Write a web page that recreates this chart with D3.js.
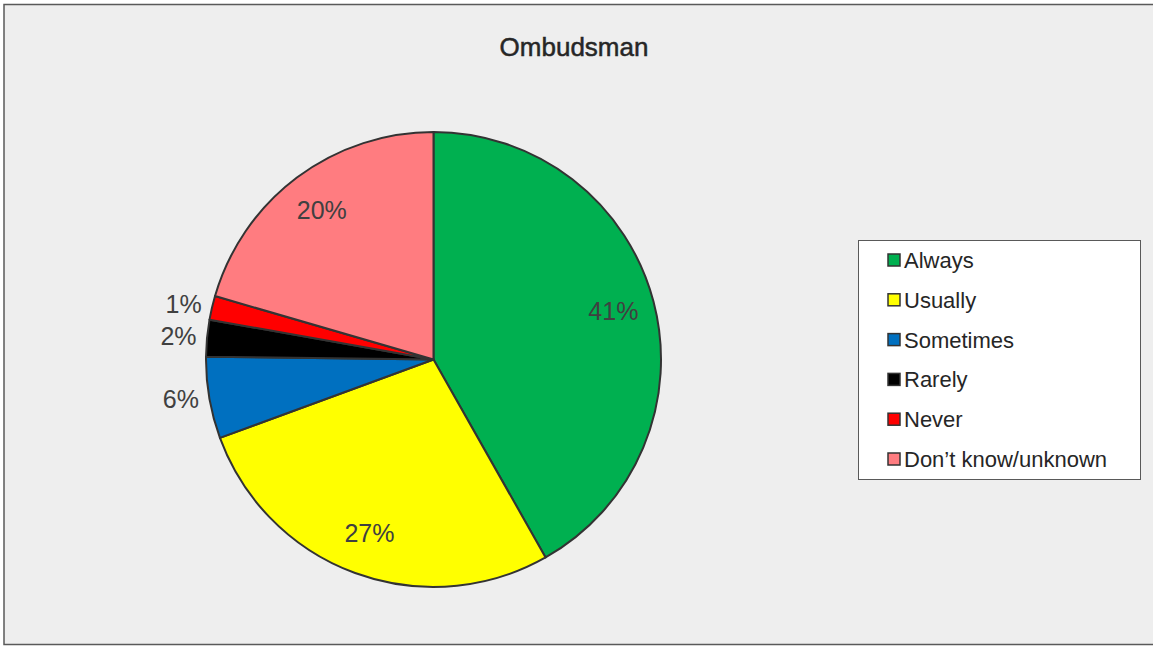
<!DOCTYPE html>
<html lang="en">
<head>
    <meta charset="utf-8">
    <title>Ombudsman</title>
    <script src="https://d3js.org/d3.v7.min.js" charset="utf-8"></script>
    <style type="text/css">
        html, body { margin: 0; padding: 0; background: #ffffff; }
        svg { display: block; font-family: "Liberation Sans", Arial, sans-serif; }
    </style>
</head>
<body>
	<svg width="1153" height="646"></svg>
	<script>

	    // data
	    var categories = ["Always", "Usually", "Sometimes", "Rarely", "Never", "Don\u2019t know/unknown"];
	    var values = [41.8, 27.6, 5.8, 2.6, 1.7, 20.5];
	    var pctLabels = ["41%", "27%", "6%", "2%", "1%", "20%"];
	    var colors = ["#00b050", "#ffff00", "#0070c0", "#000000", "#ff0000", "#ff7c80"];

	    var svg = d3.select("svg"),
	        width = +svg.attr("width"),
	        height = +svg.attr("height");

	    // chart area background + border
	    svg.append("rect")
	       .attr("x", 4).attr("y", 4.5)
	       .attr("width", width + 10).attr("height", 640)
	       .attr("fill", "#eeeeee")
	       .attr("stroke", "#595959")
	       .attr("stroke-width", 1.5);

	    svg.append("text")
	       .attr("x", 574).attr("y", 56)
	       .attr("text-anchor", "middle")
	       .attr("font-size", 26)
	       .attr("fill", "#262626")
	       .attr("stroke", "#262626")
	       .attr("stroke-width", 0.5)
	       .text("Ombudsman");

	    var cx = 433.5, cy = 359.5, r = 227.5;

	    var data = categories.map(function(c, i) {
	        return { name: c, value: values[i], label: pctLabels[i], color: colors[i] };
	    });

	    var pie = d3.pie().sort(null).value(function(d) { return d.value; });
	    var arc = d3.arc().innerRadius(0).outerRadius(r);
	    var arcs = pie(data);

	    var g = svg.append("g")
	               .attr("transform", "translate(" + cx + "," + cy + ")");

	    g.selectAll("path")
	     .data(arcs)
	     .enter().append("path")
	     .attr("d", arc)
	     .attr("fill", function(d) { return d.data.color; })
	     .attr("stroke", "#333333")
	     .attr("stroke-width", 2)
	     .attr("stroke-linejoin", "round");

	    // labels: inside for large slices, outside (end-anchored) for small ones
	    g.selectAll("text.lbl")
	     .data(arcs)
	     .enter().append("text")
	     .attr("class", "lbl")
	     .attr("font-size", 25)
	     .attr("fill", "#404040")
	     .attr("dy", "0.36em")
	     .each(function(d) {
	         var a = (d.startAngle + d.endAngle) / 2;
	         var inside = (d.endAngle - d.startAngle) > 0.6;
	         var rr = inside ? 186 : 238;
	         d3.select(this)
	           .attr("x", rr * Math.sin(a))
	           .attr("y", -rr * Math.cos(a) - 1)
	           .attr("text-anchor", inside ? "middle" : "end");
	     })
	     .text(function(d) { return d.data.label; });

	    // legend
	    var legend = svg.append("g").attr("transform", "translate(858,240)");
	    legend.append("rect")
	          .attr("x", 0.5).attr("y", 0.5)
	          .attr("width", 282).attr("height", 239)
	          .attr("fill", "#ffffff")
	          .attr("stroke", "#595959")
	          .attr("stroke-width", 1);

	    var items = legend.selectAll("g.item")
	          .data(data)
	          .enter().append("g")
	          .attr("class", "item")
	          .attr("transform", function(d, i) { return "translate(0," + (20 + i * 39.8) + ")"; });

	    items.append("rect")
	         .attr("x", 30).attr("y", -6)
	         .attr("width", 12).attr("height", 12)
	         .attr("fill", function(d) { return d.color; })
	         .attr("stroke", "#333333")
	         .attr("stroke-width", 1.5);

	    items.append("text")
	         .attr("x", 46).attr("y", 0)
	         .attr("dy", "0.36em")
	         .attr("font-size", 22)
	         .attr("fill", "#262626")
	         .text(function(d) { return d.name; });

	</script>
</body>
</html>
